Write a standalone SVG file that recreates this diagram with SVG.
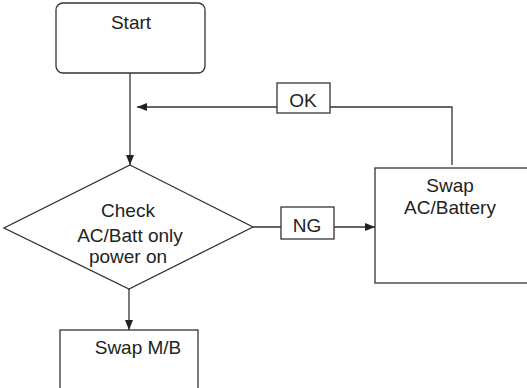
<svg xmlns="http://www.w3.org/2000/svg" width="527" height="388" viewBox="0 0 527 388">
<style>
.s{fill:#fff;stroke:#333;stroke-width:1.3}
.c{fill:none;stroke:#333;stroke-width:1.3}
text{font-family:"Liberation Sans",Arial,sans-serif;font-size:19px;fill:#222;text-anchor:middle}
</style>
<defs>
<marker id="ah" viewBox="0 0 10 8" refX="10" refY="4" markerWidth="10" markerHeight="8" markerUnits="userSpaceOnUse" orient="auto">
<path d="M0,0 L10,4 L0,8 Z" fill="#222"/>
</marker>
</defs>
<rect width="527" height="388" fill="#fff"/>
<g id="connectors">
<path class="c" d="M130,73 V165" marker-end="url(#ah)"/>
<path class="c" d="M452,165 V107 H137" marker-end="url(#ah)"/>
<path class="c" d="M253,227 H375" marker-end="url(#ah)"/>
<path class="c" d="M129,289 V330" marker-end="url(#ah)"/>
</g>
<g id="start">
<rect class="s" x="56" y="3" width="149" height="70" rx="7"/>
<text x="131" y="29">Start</text>
</g>
<g id="check">
<polygon class="s" points="130,165 253,227 129,289 4,228"/>
<text x="128" y="217">Check</text>
<text x="130" y="242">AC/Batt only</text>
<text x="128" y="263">power on</text>
</g>
<g id="ok">
<rect class="s" x="277" y="83" width="53" height="30"/>
<text x="303" y="107">OK</text>
</g>
<g id="ng">
<rect class="s" x="281" y="207" width="53" height="32"/>
<text x="307" y="232">NG</text>
</g>
<g id="swapac">
<rect class="s" x="375" y="168" width="160" height="115"/>
<text x="450" y="192">Swap</text>
<text x="450" y="214">AC/Battery</text>
</g>
<g id="swapmb">
<rect class="s" x="60" y="330" width="138" height="70"/>
<text x="138" y="354">Swap M/B</text>
</g>
</svg>
